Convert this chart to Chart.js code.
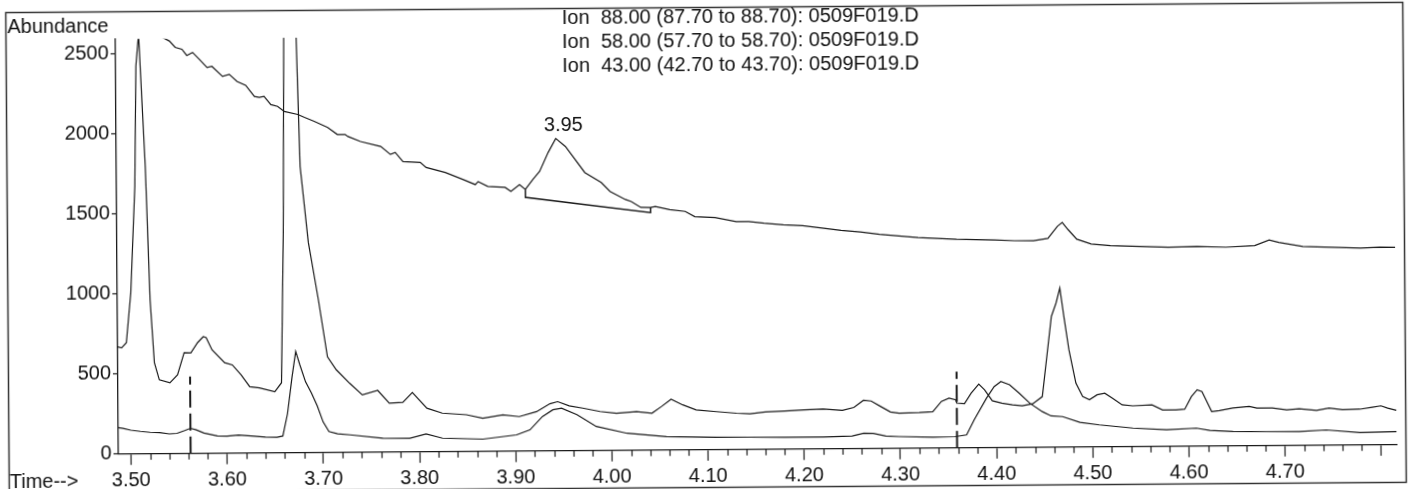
<!DOCTYPE html>
<html>
<head>
<meta charset="utf-8">
<script src="https://cdn.jsdelivr.net/npm/chart.js@4.4.0/dist/chart.umd.min.js"></script>
<style>
  html, body { margin: 0; padding: 0; background: #fff; overflow: hidden; }
  /* the scanned printout is slightly tilted */
  #chromChart { display: block; transform: rotate(-0.42deg); }
</style>
</head>
<body>
<canvas id="chromChart" width="1409" height="489"></canvas>
<script>
// Ion 88.00 (upper drifting trace with the integrated 3.95 peak)
const ion88Time = [3.527, 3.535, 3.543, 3.549, 3.556, 3.561, 3.567, 3.574, 3.582, 3.587, 3.598, 3.605, 3.613, 3.622,
  3.631, 3.636, 3.641, 3.648, 3.655, 3.662, 3.676, 3.683, 3.693, 3.707, 3.717, 3.725, 3.728, 3.741, 3.762, 3.772,
  3.777, 3.785, 3.803, 3.809, 3.829, 3.847, 3.860, 3.863, 3.873, 3.891, 3.897, 3.906, 3.912, 3.920, 3.927, 3.936,
  3.944, 3.954, 3.974, 3.991, 4.000, 4.016, 4.022, 4.032, 4.042, 4.047, 4.062, 4.078, 4.088, 4.109, 4.131, 4.144,
  4.160, 4.180, 4.200, 4.220, 4.240, 4.260, 4.280, 4.300, 4.320, 4.340, 4.360, 4.380, 4.400, 4.420, 4.440, 4.455,
  4.465, 4.470, 4.476, 4.485, 4.500, 4.520, 4.550, 4.580, 4.610, 4.640, 4.670, 4.685, 4.695, 4.720, 4.750, 4.780,
  4.800, 4.816];
const ion88Abund = [2680, 2600, 2575, 2535, 2523, 2484, 2503, 2459, 2408, 2415, 2352, 2364, 2320, 2295,
  2225, 2219, 2225, 2174, 2162, 2130, 2111, 2092, 2067, 2028, 1984, 1984, 1971, 1939, 1907, 1857,
  1869, 1812, 1806, 1774, 1742, 1698, 1665, 1684, 1653, 1646, 1621, 1663, 1632, 1695, 1744, 1862,
  1949, 1899, 1735, 1672, 1616, 1565, 1552, 1515, 1514, 1520, 1500, 1488, 1455, 1448, 1422, 1422,
  1411, 1400, 1394, 1378, 1362, 1352, 1336, 1325, 1314, 1308, 1302, 1299, 1295, 1290, 1289, 1303,
  1378, 1402, 1357, 1297, 1266, 1255, 1249, 1242, 1246, 1240, 1249, 1283, 1267, 1241, 1235, 1229,
  1233, 1232];

// Ion 58.00 (middle trace, two big early peaks)
const ion58Time = [3.485, 3.491, 3.496, 3.501, 3.506, 3.508, 3.511, 3.517, 3.521, 3.525, 3.530, 3.541, 3.549, 3.556,
  3.563, 3.570, 3.576, 3.579, 3.585, 3.598, 3.606, 3.615, 3.624, 3.634, 3.650, 3.657, 3.660, 3.666, 3.672, 3.678,
  3.686, 3.696, 3.705, 3.714, 3.728, 3.741, 3.757, 3.769, 3.783, 3.793, 3.808, 3.824, 3.849, 3.866, 3.887, 3.904,
  3.922, 3.936, 3.944, 3.956, 3.970, 3.988, 4.005, 4.026, 4.042, 4.052, 4.062, 4.074, 4.088, 4.109, 4.130, 4.144,
  4.160, 4.180, 4.200, 4.220, 4.240, 4.252, 4.262, 4.270, 4.280, 4.290, 4.299, 4.320, 4.334, 4.343, 4.351, 4.358,
  4.359, 4.367, 4.374, 4.382, 4.388, 4.396, 4.406, 4.417, 4.427, 4.438, 4.448, 4.453, 4.458, 4.463, 4.467, 4.471,
  4.476, 4.483, 4.490, 4.497, 4.505, 4.513, 4.521, 4.531, 4.542, 4.562, 4.573, 4.587, 4.596, 4.603, 4.609, 4.614,
  4.624, 4.632, 4.646, 4.663, 4.671, 4.687, 4.702, 4.715, 4.733, 4.746, 4.760, 4.778, 4.791, 4.800, 4.807, 4.816];
const ion58Abund = [671, 662, 694, 1006, 1669, 2420, 2620, 1794, 961, 568, 461, 442, 492, 629,
  628, 691, 728, 722, 646, 565, 551, 489, 414, 406, 381, 437, 1373, 5200, 3300, 1787,
  1311, 953, 597, 516, 430, 358, 385, 305, 309, 370, 272, 240, 229, 207, 227, 215,
  245, 294, 307, 280, 265, 243, 232, 241, 230, 272, 317, 281, 249, 237, 226, 222,
  233, 238, 244, 248, 239, 257, 301, 296, 261, 227, 219, 222, 227, 290, 311, 300,
  279, 275, 341, 397, 361, 292, 277, 266, 259, 272, 316, 566, 816, 900, 993, 815,
  607, 399, 314, 294, 325, 334, 303, 261, 254, 259, 227, 227, 231, 309, 351, 340,
  215, 221, 236, 245, 234, 234, 222, 228, 217, 231, 220, 223, 235, 243, 228, 214];

// Ion 43.00 (lowest trace)
const ion43Time = [3.485, 3.492, 3.500, 3.510, 3.520, 3.530, 3.540, 3.548, 3.556, 3.562, 3.568, 3.576, 3.590, 3.600,
  3.612, 3.625, 3.640, 3.652, 3.658, 3.663, 3.668, 3.672, 3.676, 3.682, 3.688, 3.694, 3.700, 3.706, 3.715, 3.728,
  3.762, 3.790, 3.807, 3.824, 3.866, 3.901, 3.915, 3.928, 3.939, 3.948, 3.964, 3.984, 4.016, 4.057, 4.109, 4.144,
  4.180, 4.220, 4.250, 4.262, 4.272, 4.285, 4.299, 4.334, 4.357, 4.369, 4.377, 4.390, 4.398, 4.405, 4.414, 4.424,
  4.435, 4.448, 4.457, 4.469, 4.487, 4.507, 4.542, 4.577, 4.608, 4.622, 4.646, 4.681, 4.715, 4.743, 4.778, 4.816];
const ion43Abund = [166, 160, 148, 140, 134, 131, 123, 126, 143, 157, 147, 127, 108, 106,
  113, 107, 99, 97, 105, 243, 473, 632, 552, 442, 372, 291, 191, 131, 116, 109,
  86, 85, 111, 84, 76, 101, 132, 214, 256, 266, 224, 150, 106, 83, 77, 76,
  74, 74, 79, 96, 94, 77, 73, 67, 70, 81, 174, 309, 381, 412, 391, 338,
  275, 222, 195, 190, 153, 137, 115, 103, 112, 97, 89, 87, 86, 95, 77, 81];

// integration baseline under the 3.95 peak (ion 88)
const baseTime = [3.912, 3.912, 4.042, 4.042];
const baseAbund = [1632, 1583, 1482, 1514];

// dashed integration-window markers
const markerTimes = [3.562, 4.359];
const markerTops = [480, 475];

const peakTimes = [3.95];
const peakLabels = ['3.95'];

const legendLines = [
  'Ion  88.00 (87.70 to 88.70): 0509F019.D',
  'Ion  58.00 (57.70 to 58.70): 0509F019.D',
  'Ion  43.00 (42.70 to 43.70): 0509F019.D'
];

const majorTicks = [3.5, 3.6, 3.7, 3.8, 3.9, 4.0, 4.1, 4.2, 4.3, 4.4, 4.5, 4.6, 4.7, 4.8];
const yTicks = [0, 500, 1000, 1500, 2000, 2500];

// minor ticks every 0.02 min
const xTicks = [];
for (let k = 350; k <= 480; k += 2) xTicks.push(k / 100);

const FONT = '"Liberation Sans", Arial, sans-serif';
const INK = '#1a1a1a';

function isMajor(v) {
    return majorTicks.some(m => Math.abs(m - v) < 1e-6);
}

function toPoints(ts, vs) {
    return ts.map((t, i) => ({ x: t, y: vs[i] }));
}

function trace(ts, vs) {
    return {
        data: toPoints(ts, vs),
        borderColor: INK,
        borderWidth: 1.2,
        pointRadius: 0,
        tension: 0,
        fill: false
    };
}

const datasets = [
    trace(ion88Time, ion88Abund),
    trace(ion58Time, ion58Abund),
    trace(ion43Time, ion43Abund),
    Object.assign(trace(baseTime, baseAbund), { borderWidth: 1.5 })
];
markerTimes.forEach((t, i) => {
    datasets.push(Object.assign(trace([t, t], [0, markerTops[i]]), {
        borderWidth: 2,
        borderDash: [17, 6]
    }));
});

const decorPlugin = {
    id: 'decor',
    afterDraw(chart) {
        const ctx = chart.ctx;
        const xs = chart.scales.x;
        const ys = chart.scales.y;
        ctx.save();

        // outer frame
        ctx.strokeStyle = '#333';
        ctx.lineWidth = 1.5;
        ctx.strokeRect(7.5, 7.5, 1397, 480);

        // short minor ticks on the time axis
        ctx.strokeStyle = INK;
        ctx.lineWidth = 1.2;
        xTicks.filter(v => !isMajor(v)).forEach(v => {
            const px = Math.round(xs.getPixelForValue(v)) + 0.5;
            ctx.beginPath();
            ctx.moveTo(px, xs.top);
            ctx.lineTo(px, xs.top + 6);
            ctx.stroke();
        });

        ctx.fillStyle = '#111';
        ctx.font = '20px ' + FONT;
        ctx.textAlign = 'left';
        ctx.textBaseline = 'alphabetic';
        ctx.fillText('Abundance', 9, 27.5);
        ctx.fillText('Time-->', 8, 482.5);
        legendLines.forEach((s, i) => ctx.fillText(s, 563.5, 22.5 + i * 24));

        // retention time label above the integrated peak
        ctx.textAlign = 'center';
        ctx.textBaseline = 'bottom';
        peakTimes.forEach((t, i) => {
            let top = 0;
            ion88Time.forEach((tt, j) => { if (Math.abs(tt - t) < 0.01) top = Math.max(top, ion88Abund[j]); });
            ctx.fillText(peakLabels[i], xs.getPixelForValue(t) + 2, ys.getPixelForValue(top) - 3);
        });
        ctx.restore();
    }
};

new Chart(document.getElementById('chromChart'), {
    type: 'line',
    data: { datasets: datasets },
    options: {
        responsive: false,
        animation: false,
        devicePixelRatio: 1,
        layout: { padding: { top: 34.7, right: 13.5, left: 0, bottom: 0 } },
        plugins: {
            legend: { display: false },
            tooltip: { enabled: false }
        },
        scales: {
            x: {
                type: 'linear',
                min: 3.487,
                max: 4.8164,
                afterBuildTicks: s => { s.ticks = xTicks.map(v => ({ value: v })); },
                afterFit: s => { s.height = 489 - 449.7; },
                grid: {
                    display: true,
                    drawOnChartArea: false,
                    drawTicks: true,
                    tickLength: 11,
                    tickWidth: 1.2,
                    tickColor: c => (c.tick && isMajor(c.tick.value)) ? INK : 'rgba(0,0,0,0)'
                },
                border: { display: true, color: INK, width: 1.3 },
                ticks: {
                    color: '#111',
                    font: { family: FONT, size: 20 },
                    padding: 4,
                    maxRotation: 0,
                    autoSkip: false,
                    callback: v => (isMajor(v) && v < 4.75) ? v.toFixed(2) : ''
                }
            },
            y: {
                min: 0,
                max: 2590,
                afterBuildTicks: s => { s.ticks = yTicks.map(v => ({ value: v })); },
                afterFit: s => { s.width = 117; },
                grid: {
                    display: true,
                    drawOnChartArea: false,
                    drawTicks: true,
                    tickLength: 5,
                    tickWidth: 1.2,
                    tickColor: INK
                },
                border: { display: true, color: INK, width: 1.3 },
                ticks: {
                    color: '#111',
                    font: { family: FONT, size: 20 },
                    padding: 2,
                    callback: v => String(v)
                }
            }
        }
    },
    plugins: [decorPlugin]
});
</script>
</body>
</html>
